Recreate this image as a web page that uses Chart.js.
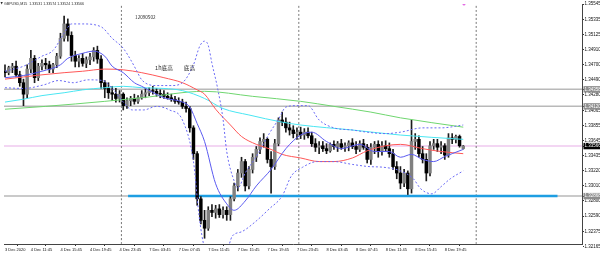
<!DOCTYPE html>
<html>
<head>
<meta charset="utf-8">
<script src="https://cdn.jsdelivr.net/npm/chart.js@4.4.1/dist/chart.umd.min.js"></script>
<style>
  html, body { margin: 0; padding: 0; background: #fff; }
  #wrap { width: 600px; height: 255px; position: relative; }
</style>
</head>
<body>
<div id="wrap"><canvas id="c"></canvas></div>
<script>
// GBPUSD M15 — candles grouped in 30 min steps, x axis counted in candles

// ── candles (one per 30 min, first at 4 Dec 08:00) ──────────────────────
const opens = [
  1.3461,1.3459,1.3466,1.3468,1.3456,1.3445,1.3429,1.3464,1.3479,1.3452,
  1.3468,1.3472,1.3470,1.3464,1.3470,1.3482,1.3507,1.3527,1.3511,1.3483,
  1.3475,1.3479,1.3472,1.3477,1.3481,1.3490,1.3478,1.3445,1.3437,1.3431,
  1.3429,1.3423,1.3429,1.3413,1.3420,1.3423,1.3419,1.3424,1.3429,1.3431,
  1.3434,1.3433,1.3430,1.3429,1.3426,1.3424,1.3422,1.3419,1.3418,1.3412,
  1.3409,1.3382,1.3346,1.3283,1.3253,1.3242,1.3267,1.3264,1.3269,1.3261,
  1.3267,1.3261,1.3283,1.3301,1.3319,1.3335,1.3301,1.3324,1.3341,1.3352,
  1.3363,1.3366,1.3338,1.3328,1.3360,1.3393,1.3390,1.3382,1.3379,1.3374,
  1.3376,1.3372,1.3376,1.3371,1.3360,1.3355,1.3357,1.3353,1.3350,1.3359,
  1.3356,1.3360,1.3355,1.3357,1.3361,1.3356,1.3352,1.3360,1.3355,1.3338,
  1.3355,1.3359,1.3349,1.3357,1.3353,1.3346,1.3328,1.3319,1.3305,1.3319,
  1.3297,1.3363,1.3366,1.3346,1.3338,1.3319,1.3357,1.3360,1.3355,1.3357,
  1.3344,1.3368,1.3366,1.3370,1.33531
];
const highs = [
  1.3470,1.3468,1.3472,1.3475,1.3461,1.3450,1.3470,1.3490,1.3483,1.3472,
  1.3477,1.3479,1.3475,1.3472,1.3486,1.3514,1.3538,1.3534,1.3516,1.3489,
  1.3483,1.3486,1.3481,1.3486,1.3494,1.3496,1.3483,1.3448,1.3445,1.3440,
  1.3437,1.3434,1.3431,1.3424,1.3426,1.3429,1.3427,1.3434,1.3437,1.3438,
  1.3440,1.3437,1.3435,1.3434,1.3431,1.3429,1.3426,1.3424,1.3422,1.3418,
  1.3412,1.3385,1.3349,1.3286,1.3267,1.3272,1.3275,1.3274,1.3275,1.3272,
  1.3272,1.3286,1.3305,1.3324,1.3341,1.3338,1.3328,1.3346,1.3356,1.3368,
  1.3374,1.3368,1.3349,1.3366,1.3396,1.3404,1.3396,1.3390,1.3385,1.3382,
  1.3383,1.3381,1.3382,1.3376,1.3367,1.3363,1.3363,1.3360,1.3361,1.3364,
  1.3363,1.3366,1.3361,1.3364,1.3367,1.3363,1.3364,1.3366,1.3359,1.3360,
  1.3363,1.3364,1.3363,1.3364,1.3361,1.3352,1.3335,1.3328,1.3324,1.3322,
  1.3393,1.3374,1.3371,1.3356,1.3346,1.3363,1.3366,1.3366,1.3363,1.3360,
  1.3374,1.3374,1.3372,1.3372,1.33574
];
const lows = [
  1.3453,1.3456,1.3459,1.3453,1.3440,1.3413,1.3424,1.3459,1.3445,1.3448,
  1.3463,1.3464,1.3459,1.3459,1.3466,1.3479,1.3503,1.3503,1.3475,1.3467,
  1.3467,1.3468,1.3466,1.3470,1.3475,1.3472,1.3437,1.3424,1.3423,1.3420,
  1.3418,1.3418,1.3407,1.3409,1.3413,1.3415,1.3416,1.3422,1.3424,1.3427,
  1.3429,1.3426,1.3424,1.3423,1.3422,1.3419,1.3416,1.3415,1.3409,1.3404,
  1.3376,1.3338,1.3274,1.3248,1.3228,1.3239,1.3258,1.3256,1.3257,1.3256,
  1.3253,1.3253,1.3280,1.3294,1.3313,1.3294,1.3297,1.3319,1.3335,1.3346,
  1.3355,1.3333,1.3291,1.3324,1.3357,1.3385,1.3376,1.3372,1.3368,1.3366,
  1.3367,1.3366,1.3368,1.3356,1.3349,1.3346,1.3349,1.3346,1.3348,1.3352,
  1.3349,1.3352,1.3349,1.3350,1.3353,1.3346,1.3349,1.3352,1.3333,1.3331,
  1.3346,1.3341,1.3344,1.3349,1.3341,1.3324,1.3311,1.3297,1.3300,1.3289,
  1.3291,1.3352,1.3341,1.3333,1.3308,1.3315,1.3352,1.3349,1.3346,1.3338,
  1.3341,1.3360,1.3361,1.3355,1.33524
];
const closes = [
  1.3459,1.3466,1.3468,1.3456,1.3445,1.3429,1.3464,1.3479,1.3452,1.3468,
  1.3472,1.3470,1.3464,1.3470,1.3482,1.3507,1.3527,1.3511,1.3483,1.3475,
  1.3479,1.3472,1.3477,1.3481,1.3490,1.3478,1.3445,1.3437,1.3431,1.3429,
  1.3423,1.3429,1.3413,1.3420,1.3423,1.3419,1.3424,1.3429,1.3431,1.3434,
  1.3433,1.3430,1.3429,1.3426,1.3424,1.3422,1.3419,1.3418,1.3412,1.3409,
  1.3382,1.3346,1.3283,1.3253,1.3242,1.3267,1.3264,1.3269,1.3261,1.3267,
  1.3261,1.3283,1.3301,1.3319,1.3335,1.3301,1.3324,1.3341,1.3352,1.3363,
  1.3366,1.3338,1.3328,1.3360,1.3393,1.3390,1.3382,1.3379,1.3374,1.3376,
  1.3372,1.3376,1.3371,1.3360,1.3355,1.3357,1.3353,1.3350,1.3359,1.3356,
  1.3360,1.3355,1.3357,1.3361,1.3356,1.3352,1.3360,1.3355,1.3338,1.3355,
  1.3359,1.3349,1.3357,1.3353,1.3346,1.3328,1.3319,1.3305,1.3319,1.3297,
  1.3363,1.3366,1.3346,1.3338,1.3319,1.3357,1.3360,1.3355,1.3357,1.3344,
  1.3368,1.3366,1.3370,1.3357,1.33566
];

// ── indicators (position in candles, price) ─────────────────────────────
const redPos = [0,5,10,16,21,27,32,37,43,48,52,54,57,61,64,68,72,75,80,85,89,94,98,103,107,113,118,124];
const redVal = [1.3450,1.3453,1.3456,1.3459,1.3461,1.3464,1.3463,1.3459,1.3452,1.3445,1.3435,1.3429,1.3408,1.3386,
                1.3370,1.3359,1.3352,1.3345,1.3340,1.3335,1.3335,1.3340,1.3350,1.3357,1.3359,1.3353,1.3349,1.3346];
const cyanPos = [0,5,10,16,21,27,32,37,43,48,54,59,66,75,80,94,107,124];
const cyanVal = [1.3418,1.3422,1.3427,1.3431,1.3435,1.3438,1.3440,1.3438,1.3437,1.3434,1.3423,1.3409,1.3400,
                 1.3390,1.3386,1.3379,1.3372,1.3366];
const greenPos = [0,11,27,37,54,67,80,89,99,107,124];
const greenVal = [1.3408,1.3412,1.3419,1.3424,1.3433,1.3426,1.3419,1.3412,1.3404,1.3396,1.3383];

const bbMidPos = [0,5,10,15,17,21,24,27,29,32,35,37,43,48,50,52,54,57,60,62,65,68,72,76,80,83,87,91,96,100,
                  104,107,110,113,116,119,121,124];
const bbMidVal = [1.3452,1.3455,1.3461,1.3470,1.3479,1.3486,1.3489,1.3482,1.3468,1.3459,1.3445,1.3440,1.3424,
                  1.3418,1.3411,1.3388,1.3363,1.3304,1.3276,1.3267,1.3280,1.3301,1.3324,1.3353,1.3372,1.3376,
                  1.3363,1.3353,1.3359,1.3349,1.3349,1.3341,1.3345,1.3338,1.3335,1.3342,1.3346,1.3352];
const bbUpPos = [0,5,10,13,16,18,21,26,29,32,34,35.5,37,41,45,48,51,52.7,54,55,56,57.5,59,60,62,63,65,68,
                 71.5,74,76,79,82,85,89,94,98,103,107,113,118,124];
const bbUpVal = [1.3461,1.3468,1.3482,1.3490,1.3514,1.3527,1.3527,1.3523,1.3507,1.3493,1.3477,1.3463,1.3449,
                 1.3441,1.3441,1.3445,1.3470,1.3496,1.3503,1.3497,1.3472,1.3438,1.3394,1.3349,1.3308,1.3298,
                 1.3319,1.3342,1.3374,1.3394,1.3411,1.3413,1.3413,1.3393,1.3382,1.3379,1.3376,1.3374,1.3376,
                 1.3382,1.3382,1.3386];
const bbLowPos = [0,5,10.5,14.5,18.5,22.5,26.5,29.5,32,34.5,37.5,41,44.5,48,51,52.5,54,57.5,60,61.5,64,67.5,
                  71.5,75,77.5,80.5,84.5,89,94,98.5,102.5,107,110.5,112.5,115.5,118,120.5,124];
const bbLowVal = [1.3438,1.3437,1.3442,1.3448,1.3445,1.3449,1.3448,1.3434,1.3418,1.3407,1.3407,1.3412,1.3407,
                  1.3393,1.3335,1.3260,1.3215,1.3198,1.3209,1.3231,1.3237,1.3250,1.3269,1.3287,1.3315,1.3327,
                  1.3335,1.3335,1.3331,1.3328,1.3327,1.3322,1.3311,1.3297,1.3290,1.3300,1.3311,1.3322];

// ── levels, separators, axis labels, notes ──────────────────────────────
const grayLevels = [1.34358, 1.34120, 1.32868];
const bidLevel = 1.33566;
const blueLevel = 1.32868, blueFrom = 33.3, blueTo = 149.5;
const daySeps = [31.5, 79.5, 127.5];

const xTickPos = [0,7,15,23,31,39,47,55,63,71,79,87,95,103,111,119];
const xTickText = ['3 Dec 2020','4 Dec 11:45','4 Dec 15:45','4 Dec 19:45','4 Dec 23:45','7 Dec 03:45',
  '7 Dec 07:45','7 Dec 11:45','7 Dec 15:45','7 Dec 19:45','7 Dec 23:45','8 Dec 03:45','8 Dec 07:45',
  '8 Dec 11:45','8 Dec 15:45','8 Dec 19:45'];
const yTickVals = [1.35545,1.35335,1.35125,1.34910,1.34700,1.34490,1.34280,1.34065,1.33855,1.33645,
  1.33435,1.33220,1.33010,1.32800,1.32590,1.32375,1.32165];
const yMarked = [1.34358, 1.34120, 1.32868, 1.33566];

const noteText = ['12090502', '1h底高', '底高'];
const notePos = [35.2, 40.6, 48.4];
const notePrice = [1.3536, 1.3466, 1.3466];
const headerText = 'GBPUSD,M15  1.33531 1.33574 1.33524 1.33566';
const markPos = 124.2, markPrice = 1.35545;

const X_MIN = -0.27, X_MAX = 156.13, Y_MIN = 1.32200, Y_MAX = 1.35548;

function hline(v) { return [{ x: X_MIN, y: v }, { x: X_MAX, y: v }]; }
function pts(pos, val) { return pos.map((p, i) => ({ x: p, y: val[i] })); }
function lineDs(data, color, order, extra) {
  return Object.assign({ type: 'line', data, borderColor: color, borderWidth: 1, pointRadius: 0,
    fill: false, cubicInterpolationMode: 'monotone', order }, extra || {});
}

const datasets = [];
grayLevels.forEach(v => datasets.push(lineDs(hline(v), '#b9b9b9', 20, { borderWidth: 1.5 })));
datasets.push(lineDs(hline(bidLevel), '#f3d6f3', 20, { borderWidth: 2 }));
daySeps.forEach(s => datasets.push(lineDs([{ x: s, y: Y_MIN }, { x: s, y: Y_MAX }], '#777', 19,
  { borderDash: [2, 2] })));
datasets.push(lineDs([{ x: blueFrom, y: blueLevel }, { x: blueTo, y: blueLevel }], '#1e9ee2', 18, { borderWidth: 2.5 }));

// wicks + bodies
datasets.push({ type: 'bar', data: lows.map((l, i) => ({ x: i, y: [l, highs[i]] })),
  backgroundColor: '#1c1c1c', barThickness: 1, grouped: false, order: 17 });
datasets.push({ type: 'bar', data: opens.map((o, i) => ({ x: i, y: [o, closes[i]] })),
  backgroundColor: opens.map((o, i) => closes[i] >= o ? '#808080' : '#000'),
  barThickness: 2.8, grouped: false, order: 16 });

datasets.push(lineDs(pts(greenPos, greenVal), '#6fd66f', 5));
datasets.push(lineDs(pts(cyanPos, cyanVal), '#49e6f2', 4));
datasets.push(lineDs(pts(redPos, redVal), '#ff5757', 3));
datasets.push(lineDs(pts(bbUpPos, bbUpVal), '#6a6af5', 2, { borderDash: [2, 2] }));
datasets.push(lineDs(pts(bbLowPos, bbLowVal), '#6a6af5', 2, { borderDash: [2, 2] }));
datasets.push(lineDs(pts(bbMidPos, bbMidVal), '#5a5af0', 1));
datasets.push({ type: 'scatter', data: [{ x: markPos, y: markPrice }], pointRadius: 1.4,
  pointBackgroundColor: '#e36be3', pointBorderWidth: 0, order: 0 });

const notesPlugin = {
  id: 'notes',
  afterDatasetsDraw(chart) {
    const { ctx, scales: { x, y } } = chart;
    ctx.save();
    ctx.fillStyle = '#2a2a2a';
    ctx.textBaseline = 'middle';
    noteText.forEach((t, i) => {
      ctx.font = (i === 0 ? '4.6px' : '5.6px') + ' "Noto Sans CJK SC", "Liberation Sans", sans-serif';
      ctx.fillText(t, x.getPixelForValue(notePos[i]), y.getPixelForValue(notePrice[i]));
    });
    ctx.font = '3px "DejaVu Sans"';
    ctx.fillText('▼', 0.5, 3.5);
    ctx.font = '3.6px "Liberation Sans", sans-serif';
    ctx.fillText(headerText, 4, 3.5);
    ctx.restore();
  }
};

new Chart(document.getElementById('c'), {
  type: 'bar',
  data: { datasets },
  plugins: [notesPlugin],
  options: {
    responsive: true,
    maintainAspectRatio: false,
    animation: false,
    events: [],
    layout: { padding: 0 },
    plugins: { legend: { display: false }, tooltip: { enabled: false } },
    scales: {
      x: {
        type: 'linear', min: X_MIN, max: X_MAX, bounds: 'data', offset: false,
        afterBuildTicks: s => { s.ticks = xTickPos.map(v => ({ value: v })); },
        afterFit: s => { s.height = 11; s.paddingLeft = 0; s.paddingRight = 0; },
        ticks: { autoSkip: false, maxRotation: 0, align: 'start', padding: 1, color: '#111',
          font: { size: 4, family: 'Liberation Sans' },
          callback: (v, i) => xTickText[i] },
        grid: { drawOnChartArea: false, tickLength: 2, color: '#333' },
        border: { color: '#444' }
      },
      y: {
        type: 'linear', position: 'right', min: Y_MIN, max: Y_MAX, bounds: 'data',
        afterBuildTicks: s => { s.ticks = yTickVals.concat(yMarked).map(v => ({ value: v })); },
        afterFit: s => { s.width = 18; s.paddingTop = 0; s.paddingBottom = 0; },
        ticks: {
          autoSkip: false, padding: 0.5,
          font: { size: 4.5, family: 'Liberation Sans' },
          color: c => yMarked.includes(c.tick.value) ? '#fff' : '#111',
          showLabelBackdrop: c => yMarked.includes(c.tick.value),
          backdropColor: c => c.tick.value === bidLevel ? '#000' : '#8e8e8e',
          backdropPadding: { top: 0.5, bottom: 0.5, left: 1, right: 3 },
          callback: v => v.toFixed(5)
        },
        grid: { drawOnChartArea: false, tickLength: 2, color: '#333' },
        border: { color: '#444' }
      }
    }
  }
});
</script>
</body>
</html>
